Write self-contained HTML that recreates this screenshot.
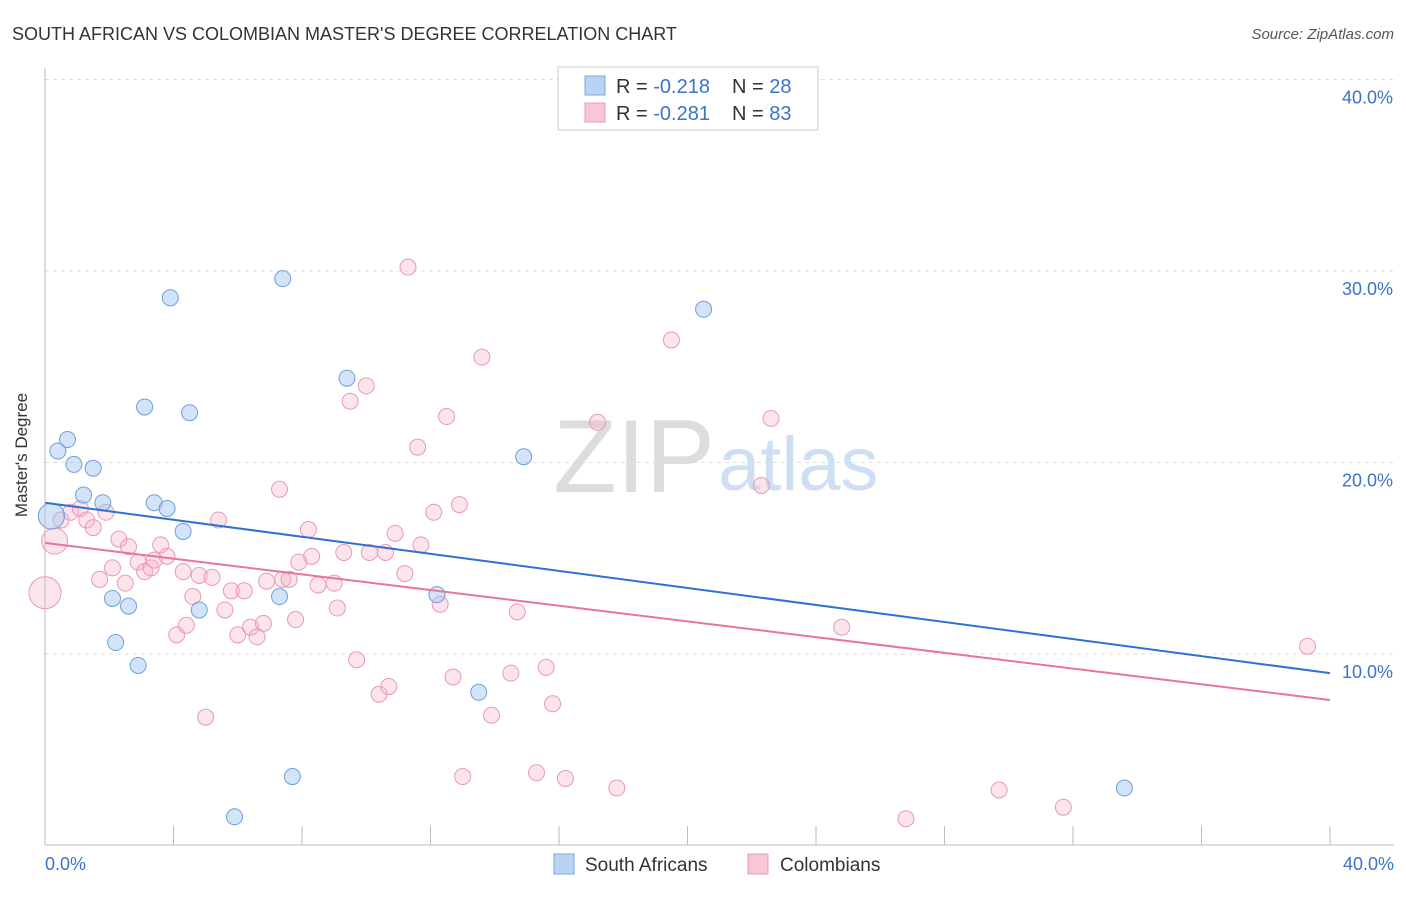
<!DOCTYPE html>
<html><head><meta charset="utf-8"><style>
body{margin:0;background:#fff;font-family:"Liberation Sans",sans-serif;}
svg text{font-family:"Liberation Sans",sans-serif;}
</style></head><body>
<svg id="chart" width="1406" height="892">
<text x="12" y="40" font-size="18" fill="#333">SOUTH AFRICAN VS COLOMBIAN MASTER'S DEGREE CORRELATION CHART</text>
<text x="1394" y="39" font-size="15" fill="#555" text-anchor="end" font-style="italic">Source: ZipAtlas.com</text>
<g id="grid"></g>
<text x="715" y="492" font-size="104" fill="#ddd" text-anchor="end" font-family="Liberation Serif">ZIP</text>
<text x="718" y="490" font-size="76" fill="#cfdff3">atlas</text>
<g id="points"></g>
<g id="lines"></g>
<line x1="45" y1="68" x2="45" y2="845" stroke="#bbb"/>
<line x1="45" y1="845" x2="1394" y2="845" stroke="#bbb"/>
<text x="27" y="455" font-size="17" fill="#333" text-anchor="middle" transform="rotate(-90 27 455)">Master's Degree</text>
<text x="45" y="870" font-size="18" fill="#3b73c9">0.0%</text>
<text x="1394" y="870" font-size="18" fill="#3b73c9" text-anchor="end">40.0%</text>
<g>
<rect x="558" y="67" width="260" height="63" fill="#fff" stroke="#ccc"/>
<rect x="585" y="76" width="20" height="19" fill="#b9d3f5" stroke="#7aa8e0"/>
<rect x="585" y="103" width="20" height="19" fill="#f9c6d6" stroke="#e89ab4"/>
<text x="616" y="93" font-size="20" fill="#333">R = <tspan fill="#3b73c9">-0.218</tspan><tspan x="732">N = </tspan><tspan fill="#3b73c9">28</tspan></text>
<text x="616" y="120" font-size="20" fill="#333">R = <tspan fill="#3b73c9">-0.281</tspan><tspan x="732">N = </tspan><tspan fill="#3b73c9">83</tspan></text>
</g>
<g>
<rect x="554" y="854" width="20" height="20" fill="#b9d3f5" stroke="#7aa8e0"/>
<text x="585" y="871" font-size="19" fill="#333">South Africans</text></g>
<g>
<rect x="748" y="854" width="20" height="20" fill="#f9c6d6" stroke="#e89ab4"/>
<text x="780" y="871" font-size="19" fill="#333">Colombians</text></g>
</svg>
<script>
const yTicks=[10,20,30,40];
const yTickLabels=["10.0%","20.0%","30.0%","40.0%"];
const xTicks=[4,8,12,16,20,24,28,32,36,40];
const blueX=[0.2,0.4,0.7,0.9,1.5,1.2,1.8,3.4,3.8,3.9,3.1,4.5,4.3,2.1,2.6,2.2,2.9,4.8,7.4,9.4,7.3,7.7,5.9,12.2,13.5,14.9,20.5,33.6];
const blueY=[17.2,20.6,21.2,19.9,19.7,18.3,17.9,17.9,17.6,28.6,22.9,22.6,16.4,12.9,12.5,10.6,9.4,12.3,29.6,24.4,13.0,3.6,1.5,13.1,8.0,20.3,28.0,3.0];
const blueR=[13,8,8,8,8,8,8,8,8,8,8,8,8,8,8,8,8,8,8,8,8,8,8,8,8,8,8,8];
const pinkX=[0,0.3,0.5,0.8,1.1,1.3,1.5,1.9,1.7,2.1,2.3,2.5,2.6,2.9,3.1,3.3,3.4,3.6,3.8,4.1,4.3,4.4,4.6,4.8,5.0,5.2,5.4,5.6,5.8,6.0,6.2,6.4,6.6,6.8,6.9,7.3,7.4,7.6,7.8,7.9,8.2,8.3,8.5,9.0,9.1,9.3,9.7,9.5,10.0,10.1,10.4,10.6,10.7,10.9,11.2,11.3,11.6,11.7,12.1,12.3,12.5,12.7,12.9,13.0,13.6,13.9,14.5,14.7,15.3,15.6,15.8,16.2,17.2,17.8,19.5,22.3,22.6,24.8,26.8,29.7,31.7,39.3];
const pinkY=[13.2,15.9,17.0,17.4,17.6,17.0,16.6,17.4,13.9,14.5,16.0,13.7,15.6,14.8,14.3,14.5,14.9,15.7,15.1,11.0,14.3,11.5,13.0,14.1,6.7,14.0,17.0,12.3,13.3,11.0,13.3,11.4,10.9,11.6,13.8,18.6,13.9,13.9,11.8,14.8,16.5,15.1,13.6,13.7,12.4,15.3,9.7,23.2,24.0,15.3,7.9,15.3,8.3,16.3,14.2,30.2,20.8,15.7,17.4,12.6,22.4,8.8,17.8,3.6,25.5,6.8,9.0,12.2,3.8,9.3,7.4,3.5,22.1,3.0,26.4,18.8,22.3,11.4,1.4,2.9,2.0,10.4];
const blueTrend=[17.9,9.0];
const pinkTrend=[15.8,7.6];
const NS="http://www.w3.org/2000/svg";
const X=v=>45+v*(1330-45)/40;
const Y=v=>845.5-v*19.15;
function mk(t,a,p){const e=document.createElementNS(NS,t);for(const k in a)e.setAttribute(k,a[k]);p.appendChild(e);return e;}
const grid=document.getElementById('grid');
yTicks.forEach((t,i)=>{
 const l=mk('line',{x1:45,x2:1394,y1:Y(t),y2:Y(t),stroke:'#ddd','stroke-dasharray':'4 4'},grid);
 
 
 const tx=mk('text',{x:1393,y:Y(t)+24,'font-size':18,fill:'#3b73c9','text-anchor':'end'},grid);
 tx.textContent=yTickLabels[i];
 
 
});
xTicks.forEach(t=>{
 const l=mk('line',{x1:X(t),x2:X(t),y1:826,y2:845,stroke:'#bbb'},grid);
 
 
});
const pts=document.getElementById('points');
pinkX.forEach((x,i)=>{
 const r=i===0?16:(i===1?13:8);
 const c=mk('circle',{cx:X(x),cy:Y(pinkY[i]),r:r,fill:'rgba(246,178,200,0.35)',stroke:'#e89ab4','stroke-width':1},pts);
 
 
});
blueX.forEach((x,i)=>{
 const c=mk('circle',{cx:X(x),cy:Y(blueY[i]),r:blueR[i],fill:'rgba(160,196,240,0.45)',stroke:'#6e9fdc','stroke-width':1},pts);
 
 
});
const ln=document.getElementById('lines');
const b=mk('line',{x1:X(0),y1:Y(blueTrend[0]),x2:X(40),y2:Y(blueTrend[1]),stroke:'#2f6fd6','stroke-width':2},ln);


const p=mk('line',{x1:X(0),y1:Y(pinkTrend[0]),x2:X(40),y2:Y(pinkTrend[1]),stroke:'#e8739e','stroke-width':2},ln);


</script>
</body></html>
